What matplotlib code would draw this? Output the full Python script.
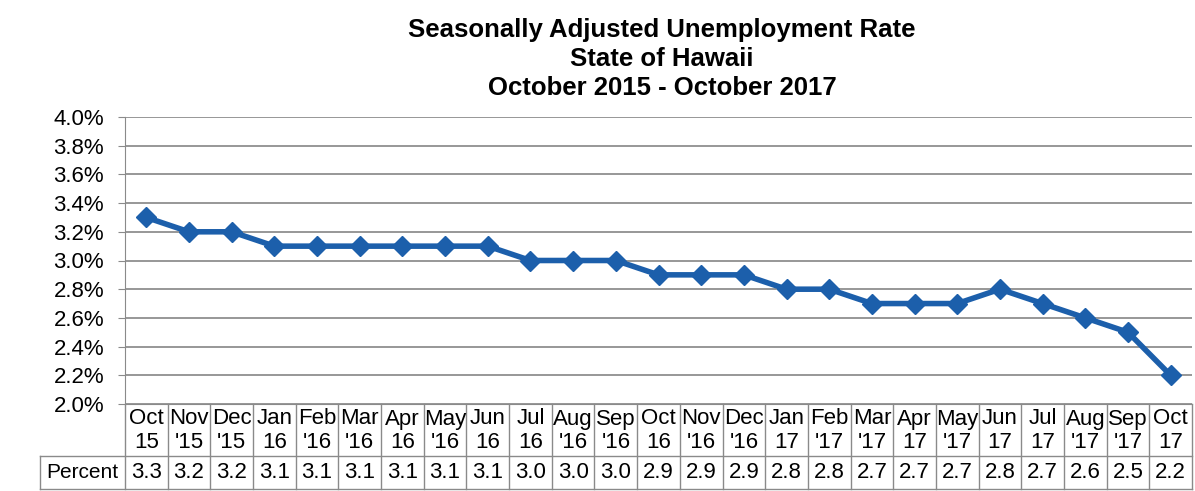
import matplotlib
matplotlib.use("Agg")
import matplotlib.pyplot as plt
from matplotlib.ticker import FuncFormatter, MultipleLocator

plt.rcParams['font.family'] = ['Liberation Sans', 'DejaVu Sans']

months = ["Oct", "Nov", "Dec", "Jan", "Feb", "Mar", "Apr", "May", "Jun", "Jul", "Aug", "Sep",
          "Oct", "Nov", "Dec", "Jan", "Feb", "Mar", "Apr", "May", "Jun", "Jul", "Aug", "Sep", "Oct"]
years = ["15", "'15", "'15", "16", "'16", "'16", "16", "'16", "16", "16", "'16", "'16",
         "16", "'16", "'16", "17", "'17", "'17", "17", "'17", "17", "17", "'17", "'17", "17"]
rate = [3.3, 3.2, 3.2, 3.1, 3.1, 3.1, 3.1, 3.1, 3.1, 3.0, 3.0, 3.0,
        2.9, 2.9, 2.9, 2.8, 2.8, 2.7, 2.7, 2.7, 2.8, 2.7, 2.6, 2.5, 2.2]
row_label = "Percent"
title_lines = ["Seasonally Adjusted Unemployment Rate", "State of Hawaii", "October 2015 - October 2017"]

W, H = 1195, 491
fig = plt.figure(figsize=(W / 100, H / 100), dpi=100)
x0 = 125
ax = fig.add_axes([x0 / W, 1 - 404 / H, (1192 - x0) / W, (404 - 117) / H])

color = '#1c5fab'
x = list(range(len(rate)))
ax.plot(x, rate, color=color, lw=4, marker='D', ms=10, mec=color, mfc=color, zorder=3)

ax.set_xlim(-0.5, len(rate) - 0.5)
ax.set_ylim(2.0, 4.0)
ax.yaxis.set_major_locator(MultipleLocator(0.2))
ax.yaxis.set_major_formatter(FuncFormatter(lambda v, p: f"{v:.1f}%"))
ax.grid(axis='y', color='#8f8f8f', lw=1.3)
ax.set_axisbelow(True)
ax.set_xticks([])
for s in ['top', 'right']:
    ax.spines[s].set_visible(False)
ax.spines['left'].set_color('#8a8a8a')
ax.spines['bottom'].set_color('#8a8a8a')
ax.tick_params(axis='y', labelsize=16, length=5, color='#8a8a8a', pad=10)

tx = 662 / W
fig.text(tx, 1 - 30 / H, title_lines[0], ha='center', va='center', fontsize=18.5, fontweight='bold')
fig.text(tx, 1 - 59 / H, title_lines[1], ha='center', va='center', fontsize=18.5, fontweight='bold')
fig.text(tx, 1 - 88 / H, title_lines[2], ha='center', va='center', fontsize=18.5, fontweight='bold')

# data table below the axis
trans = ax.get_xaxis_transform()
ph = 404 - 117
def yax(py):
    return (404 - py) / ph

tc = '#8a8a8a'
n = len(rate)
for i in range(n + 1):
    ax.plot([i - 0.5, i - 0.5], [yax(404), yax(489)], transform=trans, color=tc, lw=1, clip_on=False)
x_left = -0.5 - (x0 - 40) / ((1192 - x0) / n)
for py in [456, 489]:
    ax.plot([x_left, n - 0.5], [yax(py), yax(py)], transform=trans, color=tc, lw=1, clip_on=False)
ax.plot([x_left, x_left], [yax(456), yax(489)], transform=trans, color=tc, lw=1, clip_on=False)

fs = 16
for i in range(n):
    ax.text(i, yax(419), months[i], transform=trans, ha='center', va='center', fontsize=fs, clip_on=False)
    ax.text(i, yax(443), years[i], transform=trans, ha='center', va='center', fontsize=fs, clip_on=False)
    ax.text(i, yax(473), f"{rate[i]:.1f}", transform=trans, ha='center', va='center', fontsize=fs, clip_on=False)
ax.text((x_left - 0.5) / 2, yax(473), row_label, transform=trans, ha='center', va='center', fontsize=15, clip_on=False)

fig.savefig("out.png", dpi=100)
